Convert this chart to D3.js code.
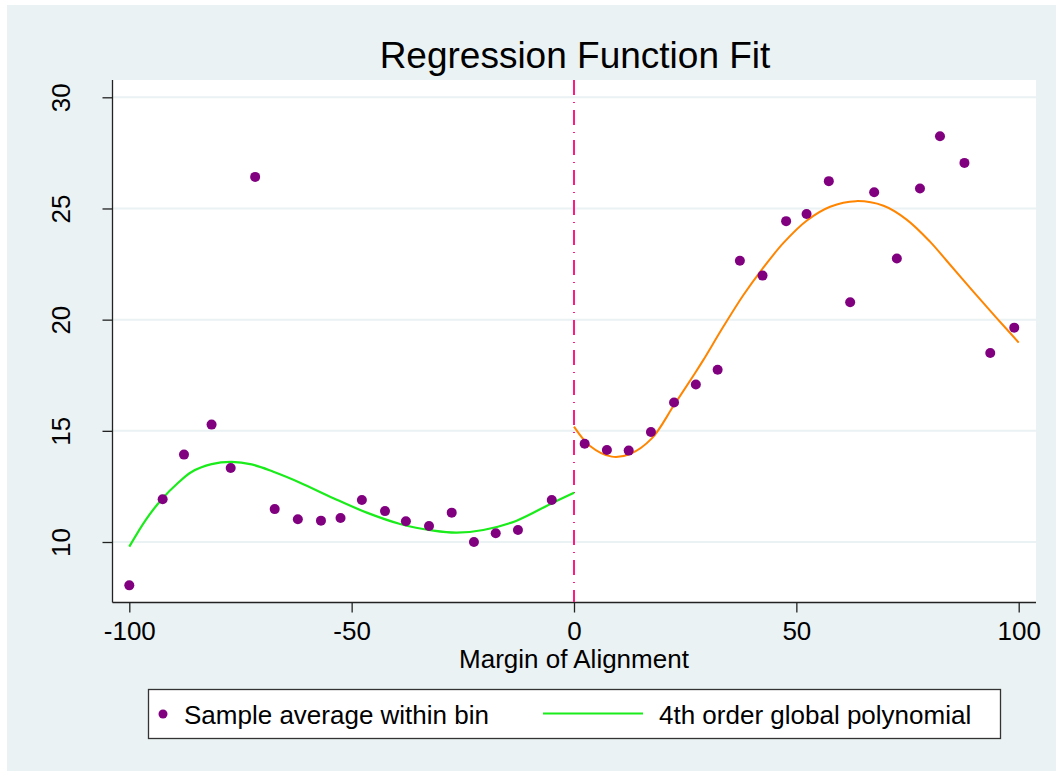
<!DOCTYPE html>
<html>
<head>
<meta charset="utf-8">
<script src="https://cdn.jsdelivr.net/npm/d3@7"></script>
<style>
  body { margin: 0; background: #fff; }
  svg { display: block; font-family: "Liberation Sans", Arial, sans-serif; }
</style>
</head>
<body>
<div class="box"></div>
<script>
// bin averages, left of the cutoff
var binLeftX = [-100, -92.5, -87.7, -81.5, -77.2, -71.7, -67.3, -62.1, -56.9, -52.5,
                -47.7, -42.5, -37.8, -32.6, -27.5, -22.5, -17.6, -12.6, -5.0];
var binLeftY = [8.05, 11.92, 13.93, 15.28, 13.33, 26.42, 11.48, 11.02, 10.96, 11.08,
                11.89, 11.39, 10.93, 10.72, 11.32, 10.0, 10.39, 10.54, 11.89];
// bin averages, right of the cutoff
var binRightX = [2.4, 7.4, 12.3, 17.3, 22.5, 27.4, 32.3, 37.3, 42.4, 47.7,
                 52.3, 57.3, 62.1, 67.5, 72.6, 77.8, 82.3, 87.8, 93.6, 99.0];
var binRightY = [14.42, 14.14, 14.11, 14.95, 16.27, 17.08, 17.75, 22.65, 21.98, 24.43,
                 24.75, 26.23, 20.78, 25.73, 22.75, 25.90, 28.25, 27.05, 18.50, 19.64];

// fitted polynomial
var fitLeftX = [-100, -96.25, -92.5, -89.25, -86.0, -81.5, -77.0, -72.5, -67.6, -61.6,
                -54.1, -46.6, -39.1, -31.6, -26.4, -20.4, -12.9, -5.4, 0];
var fitLeftY = [9.79, 11.01, 11.97, 12.62, 13.15, 13.50, 13.60, 13.49, 13.16, 12.67,
                11.97, 11.32, 10.81, 10.51, 10.42, 10.54, 10.96, 11.70, 12.22];
var fitRightX = [0, 3.6, 8.5, 12.6, 17.5, 22.5, 27.2, 29.1, 33.6, 38.1, 42.2,
                 47.1, 52.3, 57.6, 63.4, 69.6, 74.8, 80.1, 83.8, 89.8, 95.1, 100];
var fitRightY = [15.19, 14.32, 13.84, 13.96, 14.66, 16.16, 17.59, 18.19, 19.69, 21.11, 22.24,
                 23.45, 24.45, 25.08, 25.33, 25.12, 24.50, 23.50, 22.65, 21.26, 20.06, 18.97];

var xTicks = [-100, -50, 0, 50, 100];
var yTicks = [10, 15, 20, 25, 30];

var width = 1056, height = 771;
var bg = "#eaf2f3";

var svg = d3.select(".box").append("svg")
  .attr("width", width)
  .attr("height", height);

// outer panel + plot region
svg.append("rect")
  .attr("x", 7).attr("y", 5)
  .attr("width", width - 7).attr("height", height - 5)
  .attr("fill", bg);

var plot = { left: 113, right: 1036, top: 80, bottom: 602 };
svg.append("rect")
  .attr("x", plot.left).attr("y", plot.top)
  .attr("width", plot.right - plot.left).attr("height", plot.bottom - plot.top)
  .attr("fill", "#fff");

// Scales
var x = d3.scaleLinear().domain([-100, 100]).range([129.3, 1018.7]);
var y = d3.scaleLinear().domain([10, 30]).range([542, 97.3]);

// grid
svg.append("g")
  .selectAll("line")
  .data(yTicks)
  .enter()
  .append("line")
  .attr("x1", plot.left).attr("x2", plot.right)
  .attr("y1", function(d) { return y(d); })
  .attr("y2", function(d) { return y(d); })
  .attr("stroke", bg)
  .attr("stroke-width", 2);

//Axis (plain hyphen for negatives, like the original)
var fmt = function(d) { return String(d); };

var xAxis = svg.append("g")
  .attr("transform", "translate(0," + (plot.bottom + 0.5) + ")")
  .call(d3.axisBottom(x).tickValues(xTicks).tickFormat(fmt)
    .tickSize(10).tickPadding(9).tickSizeOuter(0));
xAxis.select(".domain").attr("d", "M" + (plot.left - 0.5) + ",0H" + plot.right);

var yAxis = svg.append("g")
  .attr("transform", "translate(" + (plot.left - 0.5) + ",0)")
  .call(d3.axisLeft(y).tickValues(yTicks).tickFormat(fmt)
    .tickSize(10).tickSizeOuter(0));
yAxis.select(".domain").attr("d", "M0," + plot.top + "V" + (plot.bottom + 0.5));

svg.selectAll(".domain, .tick line").attr("stroke", "#222").attr("stroke-width", 1.3);

xAxis.selectAll("text")
  .attr("fill", "#000")
  .style("font-size", "26px");

yAxis.selectAll("text")
  .attr("fill", "#000")
  .style("font-size", "26px")
  .attr("text-anchor", "middle")
  .attr("x", null).attr("dy", null)
  .attr("transform", "translate(-43,0) rotate(-90)");

// cutoff line
svg.append("line")
  .attr("x1", x(0)).attr("x2", x(0))
  .attr("y1", plot.top).attr("y2", plot.bottom)
  .attr("stroke", "#ff1a85")
  .attr("stroke-width", 2)
  .attr("stroke-dasharray", "15,7,1,7");

// fitted lines
var line = d3.line()
  .x(function(d) { return x(d[0]); })
  .y(function(d) { return y(d[1]); })
  .curve(d3.curveCatmullRom);

svg.append("path")
  .datum(d3.zip(fitLeftX, fitLeftY))
  .attr("d", line)
  .attr("fill", "none")
  .attr("stroke", "#1aeb1a")
  .attr("stroke-width", 2.2);

svg.append("path")
  .datum(d3.zip(fitRightX, fitRightY))
  .attr("d", line)
  .attr("fill", "none")
  .attr("stroke", "#ff8500")
  .attr("stroke-width", 2);

//add dots
svg.append("g")
  .selectAll("circle")
  .data(d3.zip(binLeftX, binLeftY).concat(d3.zip(binRightX, binRightY)))
  .enter()
  .append("circle")
  .attr("cx", function(d) { return x(d[0]); })
  .attr("cy", function(d) { return y(d[1]); })
  .attr("r", 5)
  .attr("fill", "#800080");

// titles
svg.append("text")
  .attr("x", 575).attr("y", 68)
  .attr("text-anchor", "middle")
  .style("font-size", "37px")
  .text("Regression Function Fit");

svg.append("text")
  .attr("x", 574).attr("y", 668)
  .attr("text-anchor", "middle")
  .style("font-size", "26px")
  .text("Margin of Alignment");

// legend
var lg = svg.append("g");
lg.append("rect")
  .attr("x", 148.5).attr("y", 689.5)
  .attr("width", 852).attr("height", 49)
  .attr("fill", "#fff")
  .attr("stroke", "#333")
  .attr("stroke-width", 1.3);
lg.append("circle")
  .attr("cx", 163).attr("cy", 714)
  .attr("r", 4.5)
  .attr("fill", "#800080");
lg.append("text")
  .attr("x", 184).attr("y", 724)
  .style("font-size", "26px")
  .text("Sample average within bin");
lg.append("line")
  .attr("x1", 543).attr("x2", 643)
  .attr("y1", 713.5).attr("y2", 713.5)
  .attr("stroke", "#1aeb1a")
  .attr("stroke-width", 2.2);
lg.append("text")
  .attr("x", 659).attr("y", 724)
  .style("font-size", "26px")
  .text("4th order global polynomial");
</script>
</body>
</html>
